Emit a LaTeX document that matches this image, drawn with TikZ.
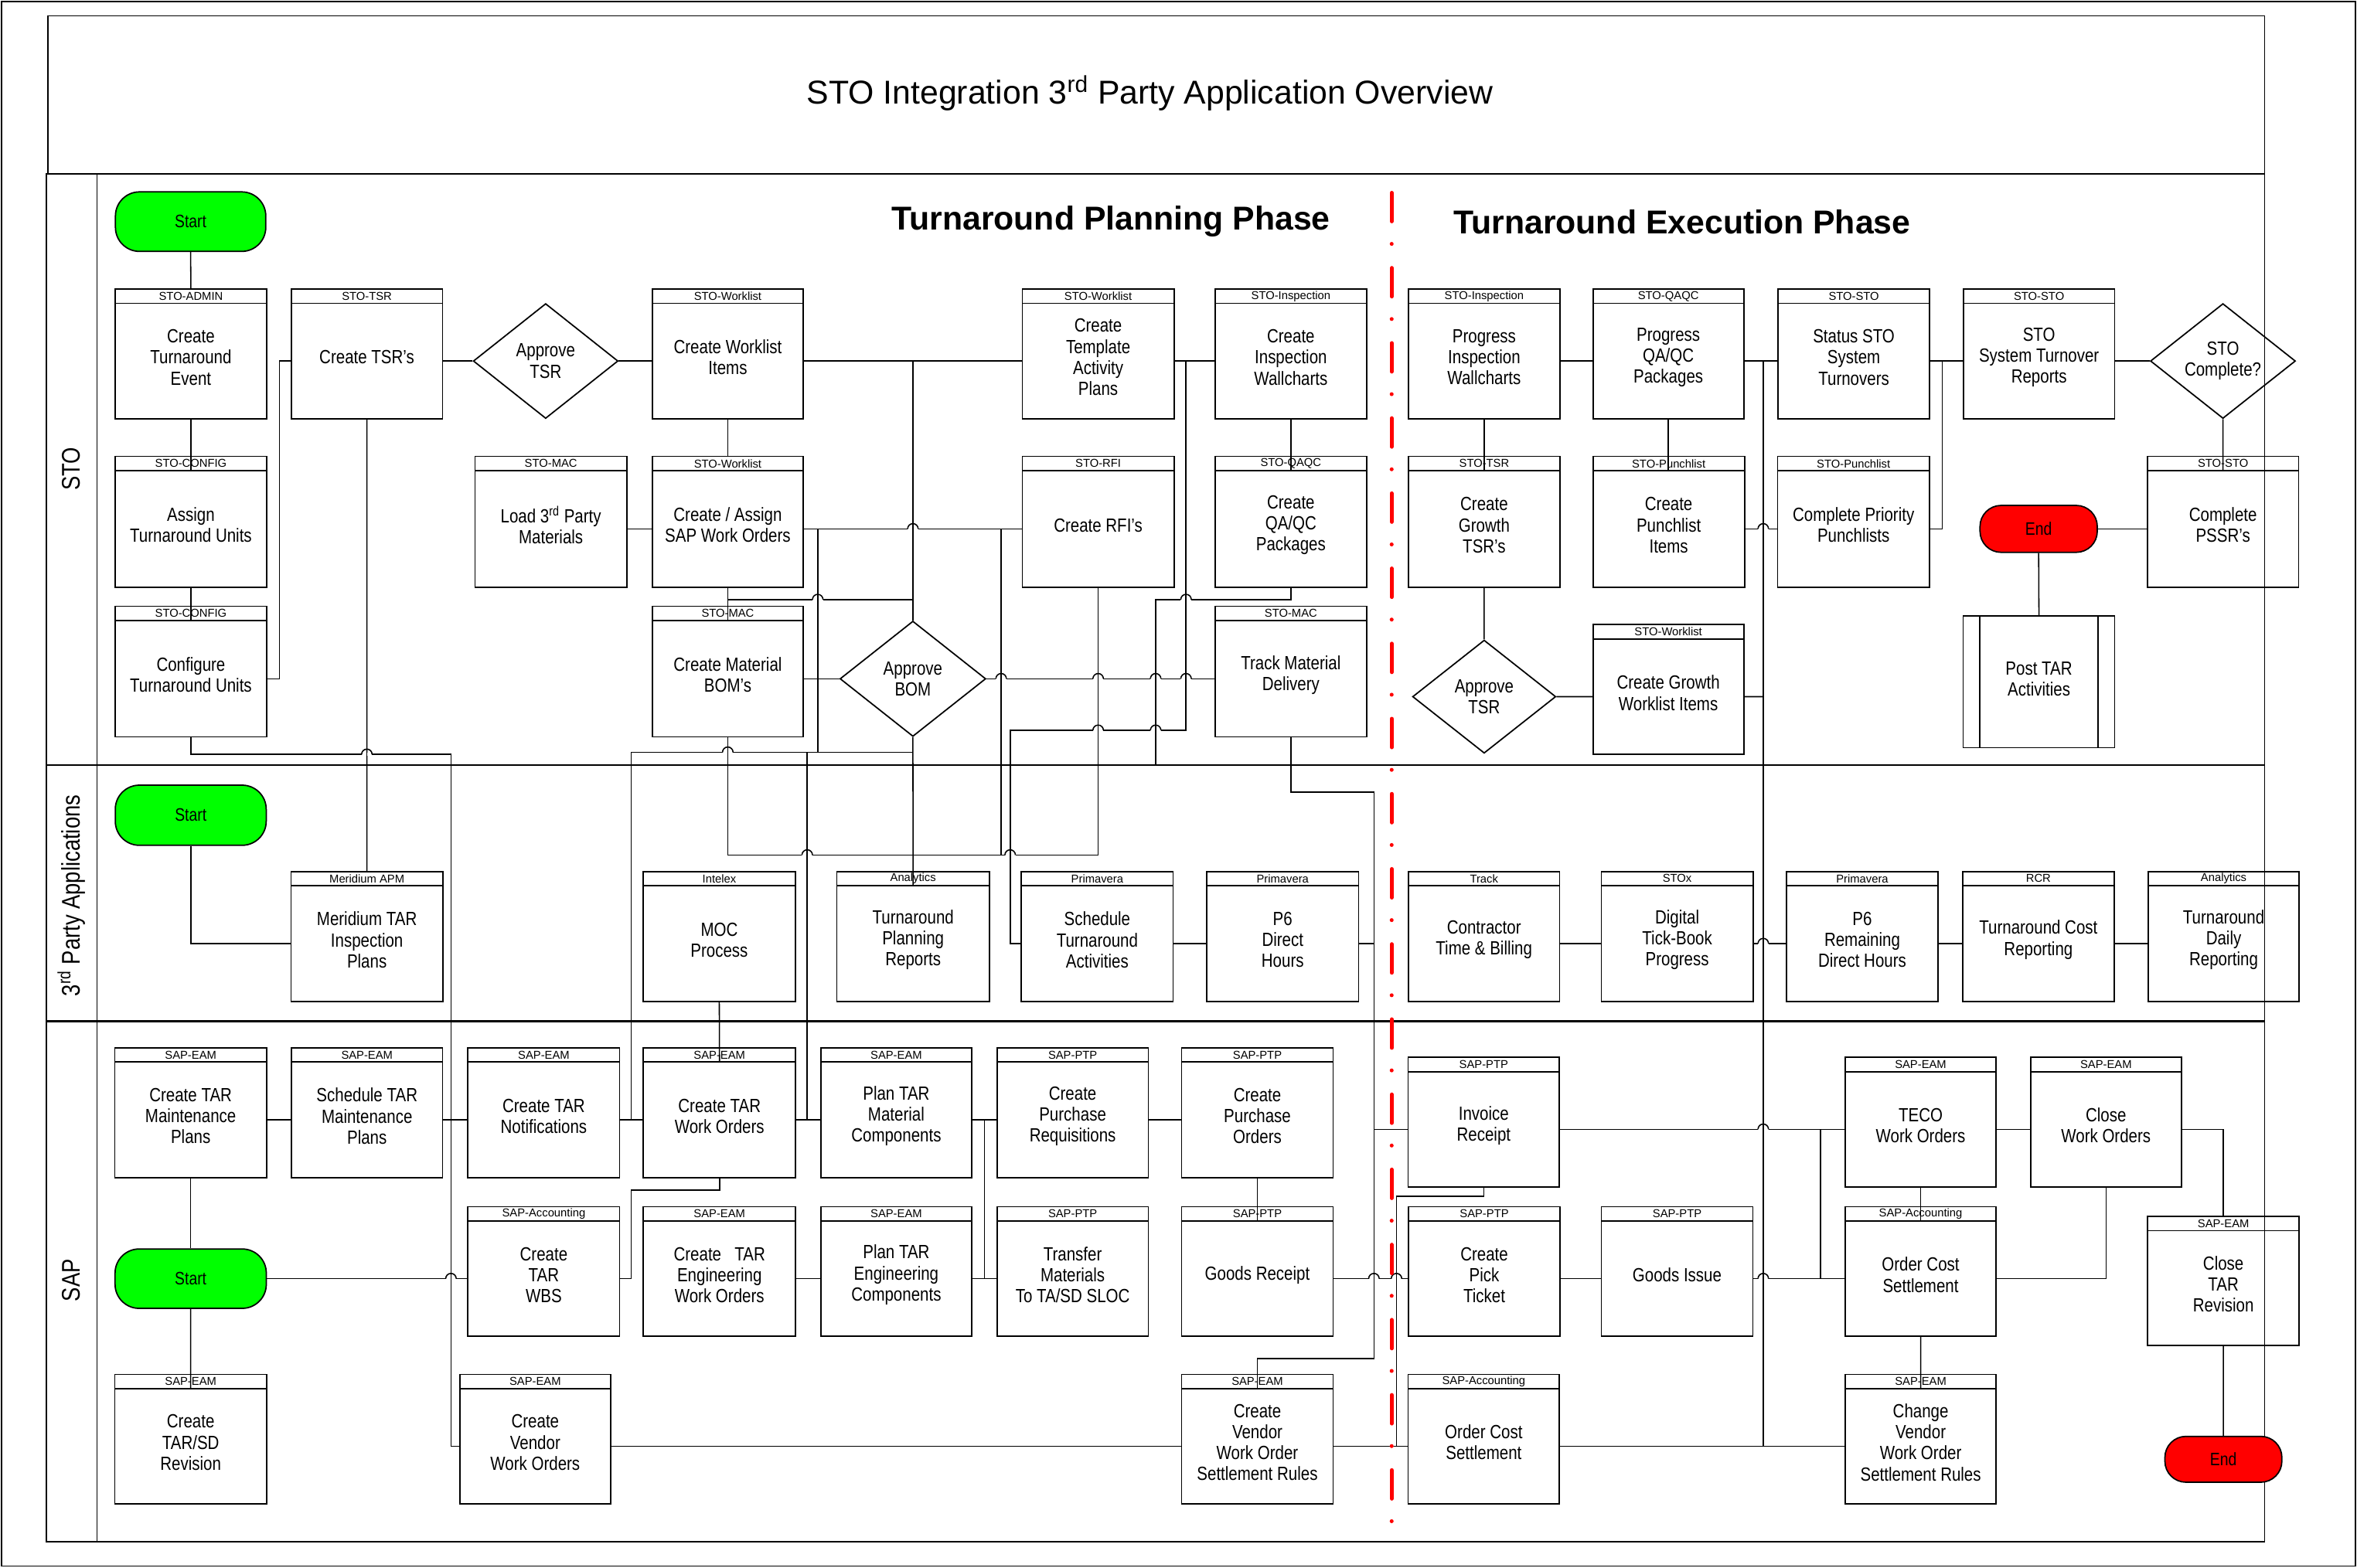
\documentclass[tikz,border=0pt]{standalone}
\usepackage{fontspec}
\setmainfont{Liberation Sans}
\newfontfamily\boxfont{Liberation Sans}[FakeStretch=0.83]
\usetikzlibrary{shapes.geometric,calc}
\definecolor{tgreen}{RGB}{0,255,0}
\definecolor{tred}{RGB}{255,0,0}
\newcommand{\mkbox}[7]{%
  \pgfmathsetmacro\mkw{#4-#2}%
  \pgfmathsetmacro\mkcx{(#2+#4)/2}%
  \pgfmathsetmacro\mkhy{#3+4.75}%
  \pgfmathsetmacro\mkh{#5-#3-9.5}%
  \pgfmathsetmacro\mkby{(#3+9.5+#5)/2}%
  \node[hdrbox, minimum width=\mkw pt] (#1h) at (\mkcx,\mkhy) {#6};%
  \node[bodybox, minimum width=\mkw pt, minimum height=\mkh pt] (#1) at (\mkcx,\mkby) {};%
  \node[boxtext] (#1t) at ([yshift=2.5pt]#1.center) {#7};%
}
\newcommand{\hop}[2]{%
  \fill[white] ({#1-3.5},{#2-1.1}) rectangle ({#1+3.5},{#2+1.1});%
  \draw[wire] (#1,{#2-1.4}) -- (#1,{#2+1.4});%
  \draw[wire] ({#1-3.5},#2) arc[start angle=180,end angle=0,radius=3.5pt];%
}
\tikzset{
 frame/.style={line width=0.9pt},
 lanel/.style={line width=1.3pt},
 hdrbox/.style={draw, line width=0.9pt, rectangle, inner sep=0pt, minimum height=9.5pt, font=\fontsize{7.6}{8}\selectfont},
 bodybox/.style={draw, line width=0.9pt, rectangle, inner sep=1pt},
 boxtext/.style={inner sep=0pt, align=center, font=\boxfont\fontsize{12.7}{14}\selectfont},
 dia/.style={draw, diamond, line width=0.9pt, inner sep=0pt, align=center, font=\boxfont\fontsize{12.7}{14}\selectfont},
 term/.style={draw, line width=0.9pt, rectangle, rounded corners=16pt, inner sep=0pt, font=\boxfont\fontsize{12}{14}\selectfont},
 wire/.style={line width=0.8pt},
 phase/.style={font=\bfseries\fontsize{22}{26}\selectfont},
 lanelab/.style={rotate=90, font=\boxfont\fontsize{17}{20}\selectfont},
}
\begin{document}
\begin{tikzpicture}[x=1pt,y=-1pt]
\useasboundingbox (0,0) rectangle (1568,1043);
% frames
\draw[frame] (0.9,0.9) rectangle (1567,1042.2);
\draw[frame] (31.7,10.6) rectangle (1506.5,115.7);
\node[font=\fontsize{22}{26}\selectfont] (title) at (765,62) {STO Integration 3\textsuperscript{rd} Party Application Overview};
\draw[frame] (31,115.7) rectangle (1506.5,1025.9);
\draw[frame] (64.5,115.7) -- (64.5,1025.9);
\draw[lanel] (31,509.1) -- (1506.5,509.1);
\draw[lanel] (31,679.7) -- (1506.5,679.7);
\node[lanelab] (lsto) at (47.5,312) {STO};
\node[lanelab] (l3p) at (47.5,596) {3\textsuperscript{rd} Party Applications};
\node[lanelab] (lsap) at (47.5,852) {SAP};
\node[phase] (ph1) at (739,147.5) {Turnaround Planning Phase};
\node[phase] (ph2) at (1119,147.5) {Turnaround Execution Phase};

% ---------------- STO lane
\node[term, fill=tgreen, minimum width=100pt, minimum height=39.6pt] (s0) at (126.8,147.5) {Start};
\mkbox{admin}{76.5}{192.4}{177.5}{278.6}{STO-ADMIN}{Create\\Turnaround\\Event}
\mkbox{tsr}{193.7}{192.4}{294.4}{278.6}{STO-TSR}{Create TSR’s}
\node[dia, minimum width=96.3pt, minimum height=76.5pt] (atsr) at (363,240.25) {Approve\\TSR};
\mkbox{cwl}{434}{192.4}{534.3}{278.6}{STO-Worklist}{Create Worklist\\Items}
\mkbox{tap}{680.1}{192.4}{781}{278.6}{STO-Worklist}{Create\\Template\\Activity\\Plans}
\mkbox{ciw}{808.3}{192.4}{909.2}{278.6}{STO-Inspection}{Create\\Inspection\\Wallcharts}
\mkbox{piw}{937}{192.4}{1037.7}{278.6}{STO-Inspection}{Progress\\Inspection\\Wallcharts}
\mkbox{pqa}{1059.7}{192.4}{1160}{278.6}{STO-QAQC}{Progress\\QA/QC\\Packages}
\mkbox{sst}{1182.9}{192.4}{1283.6}{278.6}{STO-STO}{Status STO\\System\\Turnovers}
\mkbox{str}{1306.1}{192.4}{1406.8}{278.6}{STO-STO}{STO\\System Turnover\\Reports}
\node[dia, minimum width=96.5pt, minimum height=76pt] (scq) at (1478.8,240.25) {STO\\Complete?};

\mkbox{atu}{76.5}{303.7}{177.5}{390.7}{STO-CONFIG}{Assign\\Turnaround Units}
\mkbox{lmat}{316}{303.7}{417}{390.7}{STO-MAC}{Load 3\textsuperscript{rd} Party\\Materials}
\mkbox{caw}{434}{303.7}{534.3}{390.7}{STO-Worklist}{Create / Assign\\SAP Work Orders}
\mkbox{rfi}{680.1}{303.7}{781}{390.7}{STO-RFI}{Create RFI’s}
\mkbox{cqa}{808.3}{303.7}{909.2}{390.7}{STO-QAQC}{Create\\QA/QC\\Packages}
\mkbox{gtsr}{937}{303.7}{1037.7}{390.7}{STO-TSR}{Create\\Growth\\TSR’s}
\mkbox{cpl}{1059.7}{303.7}{1160.5}{390.7}{STO-Punchlist}{Create\\Punchlist\\Items}
\mkbox{cpp}{1182.5}{303.7}{1283.6}{390.7}{STO-Punchlist}{Complete Priority\\Punchlists}
\node[term, fill=tred, rounded corners=14pt, minimum width=78pt, minimum height=31.2pt] (endA) at (1356.2,351.95) {End};
\mkbox{pssr}{1428.5}{303.7}{1529.2}{390.7}{STO-STO}{Complete\\PSSR’s}

\mkbox{ctu}{76.5}{403.5}{177.5}{490.4}{STO-CONFIG}{Configure\\Turnaround Units}
\mkbox{bom}{434}{403.5}{534.3}{490.4}{STO-MAC}{Create Material\\BOM’s}
\node[dia, minimum width=97pt, minimum height=76.8pt] (abom) at (607.3,451.7) {Approve\\BOM};
\mkbox{tmd}{808.3}{403.5}{909.2}{490.4}{STO-MAC}{Track Material\\Delivery}
\node[dia, minimum width=95.3pt, minimum height=75.3pt] (atsr2) at (987.35,463.6) {Approve\\TSR};
\mkbox{gwl}{1059.7}{415.7}{1160}{502}{STO-Worklist}{Create Growth\\Worklist Items}
\node[bodybox, minimum width=100.8pt, minimum height=87.7pt] (ptar) at (1356.4,453.75) {};
\node[boxtext] (ptart) at ([yshift=2pt]ptar.center) {Post TAR\\Activities};
\draw[frame] ([xshift=11.5pt]ptar.north west) -- ([xshift=11.5pt]ptar.south west);
\draw[frame] ([xshift=-11.5pt]ptar.north east) -- ([xshift=-11.5pt]ptar.south east);

% ---------------- 3rd party lane
\node[term, fill=tgreen, minimum width=100.4pt, minimum height=40pt] (s3) at (126.9,542.5) {Start};
\mkbox{mer}{193.6}{579.9}{294.6}{666.5}{Meridium APM}{Meridium TAR\\Inspection\\Plans}
\mkbox{moc}{428}{579.9}{529}{666.5}{Intelex}{MOC\\Process}
\mkbox{tpr}{556.7}{579.9}{658.2}{666.5}{Analytics}{Turnaround\\Planning\\Reports}
\mkbox{sch}{679.5}{579.9}{780.4}{666.5}{Primavera}{Schedule\\Turnaround\\Activities}
\mkbox{p6d}{802.8}{579.9}{903.8}{666.5}{Primavera}{P6\\Direct\\Hours}
\mkbox{ctb}{937}{579.9}{1037.5}{666.5}{Track}{Contractor\\Time \& Billing}
\mkbox{dtb}{1065.3}{579.9}{1166.2}{666.5}{STOx}{Digital\\Tick-Book\\Progress}
\mkbox{p6r}{1188.4}{579.9}{1289.3}{666.5}{Primavera}{P6\\Remaining\\Direct Hours}
\mkbox{tcr}{1305.6}{579.9}{1406.5}{666.5}{RCR}{Turnaround Cost\\Reporting}
\mkbox{tdr}{1429.1}{579.9}{1529.5}{666.5}{Analytics}{Turnaround\\Daily\\Reporting}

% ---------------- SAP lane
\mkbox{ctm}{76.4}{697.2}{177.3}{783.7}{SAP-EAM}{Create TAR\\Maintenance\\Plans}
\mkbox{stm}{193.9}{697.2}{294.4}{783.7}{SAP-EAM}{Schedule TAR\\Maintenance\\Plans}
\mkbox{ctn}{311.3}{697.2}{412.2}{783.7}{SAP-EAM}{Create TAR\\Notifications}
\mkbox{cwo}{428}{697.2}{529.3}{783.7}{SAP-EAM}{Create TAR\\Work Orders}
\mkbox{ptm}{546.1}{697.2}{646.4}{783.7}{SAP-EAM}{Plan TAR\\Material\\Components}
\mkbox{cpr}{663.3}{697.2}{763.9}{783.7}{SAP-PTP}{Create\\Purchase\\Requisitions}
\mkbox{cpo}{786}{697.2}{886.9}{783.7}{SAP-PTP}{Create\\Purchase\\Orders}
\mkbox{inv}{936.7}{703.6}{1037.4}{789.9}{SAP-PTP}{Invoice\\Receipt}
\mkbox{teco}{1227.5}{703.6}{1327.9}{789.9}{SAP-EAM}{TECO\\Work Orders}
\mkbox{cwoc}{1350.8}{703.6}{1451.2}{789.9}{SAP-EAM}{Close\\Work Orders}

\node[term, fill=tgreen, minimum width=100.6pt, minimum height=39.5pt] (sS) at (126.85,850.9) {Start};
\mkbox{wbs}{311.3}{803}{412.2}{889.3}{SAP-Accounting}{Create\\TAR\\WBS}
\mkbox{ewo}{428}{803}{529.3}{889.3}{SAP-EAM}{Create\hspace{0.7em}TAR\\Engineering\\Work Orders}
\mkbox{pte}{546.1}{803}{646.4}{889.3}{SAP-EAM}{Plan TAR\\Engineering\\Components}
\mkbox{trm}{663.3}{803}{763.9}{889.3}{SAP-PTP}{Transfer\\Materials\\To TA/SD SLOC}
\mkbox{grc}{786}{803}{886.9}{889.3}{SAP-PTP}{Goods Receipt}
\mkbox{pick}{937}{803}{1037.8}{889.3}{SAP-PTP}{Create\\Pick\\Ticket}
\mkbox{gi}{1065.3}{803}{1166.1}{889.3}{SAP-PTP}{Goods Issue}
\mkbox{ocs}{1227.5}{803}{1327.9}{889.3}{SAP-Accounting}{Order Cost\\Settlement}
\mkbox{ctr}{1428.7}{809.4}{1529.5}{895.3}{SAP-EAM}{Close\\TAR\\Revision}

\mkbox{tsd}{76.4}{914.6}{177.3}{1000.7}{SAP-EAM}{Create\\TAR/SD\\Revision}
\mkbox{cvw}{305.8}{914.6}{406.3}{1000.7}{SAP-EAM}{Create\\Vendor\\Work Orders}
\mkbox{vsr}{786}{914.6}{886.9}{1000.7}{SAP-EAM}{Create\\Vendor\\Work Order\\Settlement Rules}
\mkbox{ocst}{936.7}{914.6}{1037.4}{1000.7}{SAP-Accounting}{Order Cost\\Settlement}
\mkbox{cvs}{1227.5}{914.6}{1328}{1000.7}{SAP-EAM}{Change\\Vendor\\Work Order\\Settlement Rules}
\node[term, fill=tred, rounded corners=14pt, minimum width=77.8pt, minimum height=30.5pt] (endS) at (1479.1,971.1) {End};

% ---------------- connectors STO
\draw[wire] (s0.south) -- (adminh.north);
\draw[wire] (admin.south) -- (atu.north);
\draw[wire] (atu.south) -- (ctu.north);
\draw[wire] (ctu.east) -| (186,240.25) -- (tsr.west);
\draw[wire] (tsr.east) -- (atsr.west);
\draw[wire] (atsr.east) -- (cwl.west);
\draw[wire] (cwl.east) -- (tap.west);
\draw[wire] (abom.north) -- (abom.north |- cwl.east);
\draw[wire] (cwl.south) -- (cawh.north);
\draw[wire] (lmat.east) -- (caw.west);
\draw[wire] (caw.east) -- (rfi.west);
\draw[wire] (caw.south) -- (bom.north);
\draw[wire] (484.15,399) -- (607.3,399);
\draw[wire] (544,351.95) -- (544,500.6);
\draw[wire] (666,351.95) -- (666,569);
\draw[wire] (420,745.2) -- (420,500.6) -- (607.3,500.6);
\draw[wire] (537,500.6) -- (537,745.2);
\draw[wire] (abom.south) -- (tpr.north);
\draw[wire] (bom.east) -- (abom.west);
\draw[wire] (abom.east) -- (tmd.west);
\draw[wire] (bom.south) -- (484.15,569) -- (730.55,569) -- (rfi.south);
\draw[wire] (tap.east) -- (ciw.west);
\draw[wire] (789,240.25) -- (789,486) -- (672,486) |- (sch.west);
\draw[wire] (ciw.south) -- (cqa.north);
\draw[wire] (cqa.south) |- (768.8,399) -- (768.8,509.1);
\draw[wire] (tmd.south) |- (914,527) -- (914,904) -| (vsr.north);
\draw[wire] (914,751.5) -- (inv.west);
\draw[wire] (p6d.east) -- (914,627.95);
\draw[wire] (piw.east) -- (pqa.west);
\draw[wire] (pqa.east) -- (sst.west);
\draw[wire] (sst.east) -- (str.west);
\draw[wire] (str.east) -- (scq.west);
\draw[wire] (scq.south) -- (pssr.north);
\draw[wire] (pssr.west) -- (endA.east);
\draw[wire] (endA.south) -- (ptar.north);
\draw[wire] (piw.south) -- (gtsr.north);
\draw[wire] (pqa.south) -- (pqa.south |- cpl.north);
\draw[wire] (gtsr.south) -- (atsr2.north);
\draw[wire] (atsr2.east) -- (gwl.west);
\draw[wire] (gwl.east) -- (1173,463.6);
\draw[wire] (cpl.east) -- (cpp.west);
\draw[wire] (1173,240.25) -- (1173,962.4);
\draw[wire] (1292,240.25) |- (cpp.east);
\draw[wire] (tsr.south) -- (merh.north);
\draw[wire] (ctu.south) |- (300,502) |- (cvw.west);

% ---------------- connectors 3rd party
\draw[wire] (s3.south) |- (mer.west);
\draw[wire] (moc.south) -- (cwo.north);
\draw[wire] (sch.east) -- (p6d.west);
\draw[wire] (ctb.east) -- (dtb.west);
\draw[wire] (dtb.east) -- (p6r.west);
\draw[wire] (p6r.east) -- (tcr.west);
\draw[wire] (tcr.east) -- (tdr.west);

% ---------------- connectors SAP
\draw[wire] (sS.north) -- (sS.north |- ctm.south);
\draw[wire] (sS.south) -- (tsd.north);
\draw[wire] (ctm.east) -- (stm.west);
\draw[wire] (stm.east) -- (ctn.west);
\draw[wire] (ctn.east) -- (cwo.west);
\draw[wire] (cwo.east) -- (ptm.west);
\draw[wire] (ptm.east) -- (cpr.west);
\draw[wire] (655,745.2) -- (655,850.9);
\draw[wire] (pte.east) -- (trm.west);
\draw[wire] (ewo.east) -- (pte.west);
\draw[wire] (cpr.east) -- (cpo.west);
\draw[wire] (cpo.south) -- (grc.north);
\draw[wire] (grc.east) -- (pick.west);
\draw[wire] (sS.east) -- (wbs.west);
\draw[wire] (wbs.east) -- (420,850.9) -- (420,792) -| (cwo.south);
\draw[wire] (cvw.east) -- (vsr.west);
\draw[wire] (vsr.east) -- (ocst.west);
\draw[wire] (inv.south) |- (929,796) -- (929,962.4);
\draw[wire] (inv.east) -- (teco.west);
\draw[wire] (1211,751.5) -- (1211,850.9);
\draw[wire] (pick.east) -- (gi.west);
\draw[wire] (gi.east) -- (ocs.west);
\draw[wire] (ocst.east) -- (cvs.west);
\draw[wire] (teco.south) -- (ocs.north);
\draw[wire] (ocs.south) -- (cvs.north);
\draw[wire] (ocs.east) -| (cwoc.south);
\draw[wire] (teco.east) -- (cwoc.west);
\draw[wire] (cwoc.east) -| (ctrh.north);
\draw[wire] (ctr.south) -- (endS.north);

% ---------------- line jumps
\hop{244.05}{502}
\hop{484.15}{500.6}
\hop{544}{399}
\hop{607.3}{351.95}
\hop{666}{451.7}
\hop{730.55}{451.7}
\hop{768.8}{451.7}
\hop{789}{451.7}
\hop{789}{399}
\hop{730.55}{486}
\hop{768.8}{486}
\hop{672}{569}
\hop{537}{569}
\hop{300}{850.9}
\hop{914}{850.9}
\hop{929}{850.9}
\hop{1173}{751.5}
\hop{1173}{850.9}
\hop{1173}{351.95}
\hop{1173}{627.95}

% ---------------- phase divider
\draw[tred, line width=2.6pt, line cap=round, dash pattern=on 19pt off 15pt on 0pt off 16pt] (925.8,128.3) -- (925.8,1013);
\end{tikzpicture}
\end{document}
